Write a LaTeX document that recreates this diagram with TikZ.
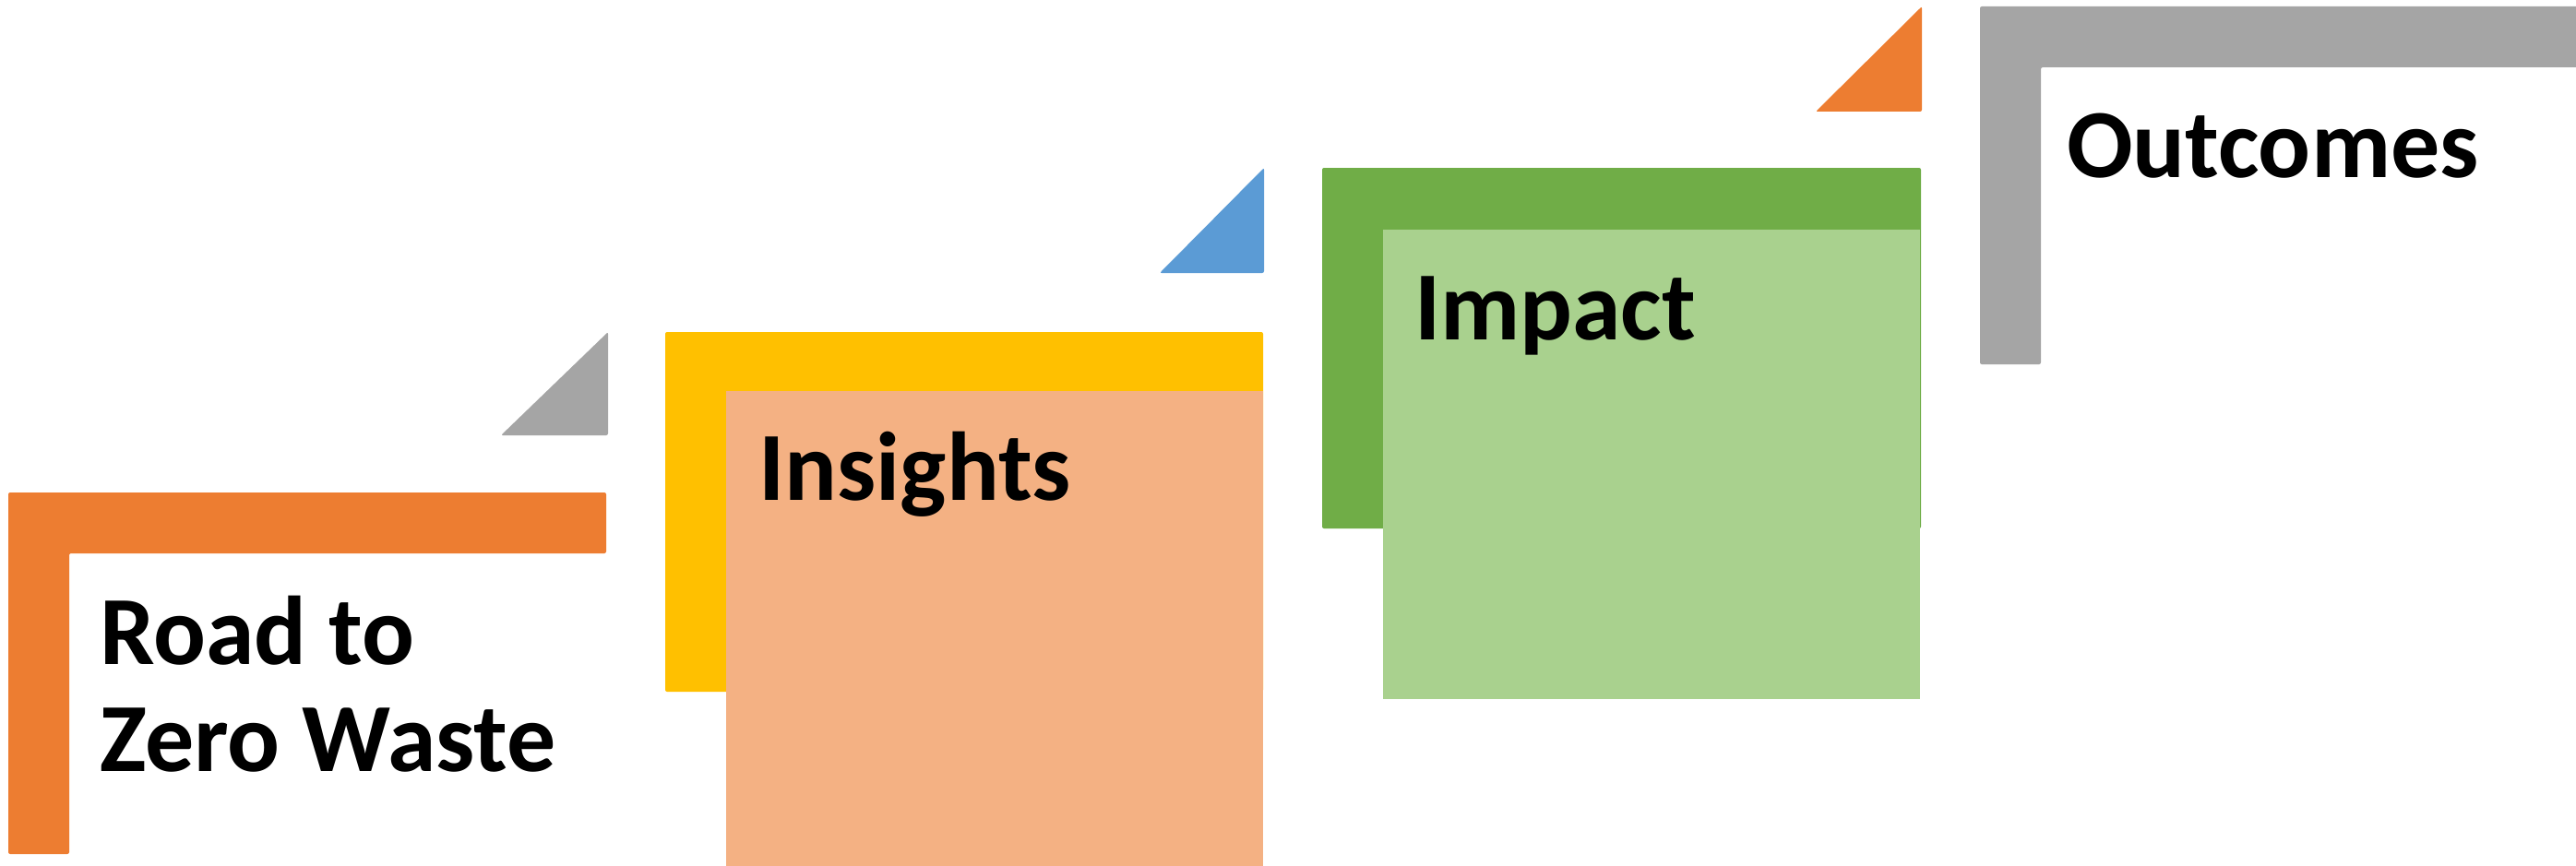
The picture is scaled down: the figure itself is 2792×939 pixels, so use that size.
\documentclass[tikz,border=0pt]{standalone}
\usepackage{fontspec}
\setmainfont{Carlito}
\definecolor{cOrange}{HTML}{ED7D31}
\definecolor{cGray}{HTML}{A5A5A5}
\definecolor{cYellow}{HTML}{FFC000}
\definecolor{cPeach}{HTML}{F4B183}
\definecolor{cBlue}{HTML}{5B9BD5}
\definecolor{cGreen}{HTML}{70AD47}
\definecolor{cLightGreen}{HTML}{A9D18E}
\tikzset{
  shapefill/.style={rounded corners=2pt},
  label text/.style={anchor=base west, inner sep=0pt, text=black,
    font=\fontsize{106}{116}\selectfont\bfseries},
}
\begin{document}
\begin{tikzpicture}[x=1pt,y=-1pt]
\useasboundingbox (0,0) rectangle (2792,939);
\clip (0,0) rectangle (2792,939);
% step 1: Road to Zero Waste (orange L)
\fill[cOrange, shapefill] (9,534) -- (657,534) -- (657,600) -- (75,600) -- (75,926) -- (9,926) -- cycle;
\fill[cGray, shapefill] (543,472) -- (659,360) -- (659,472) -- cycle;
\node[label text] (road1) at (108,720) {Road to};
\node[label text] (road2) at (108,836) {Zero Waste};
% step 2: Insights
\fill[cYellow, shapefill] (721,360) rectangle (1369,750);
\fill[cPeach] (787,424) rectangle (1369,945);
\fill[cBlue, shapefill] (1257,296) -- (1370,182) -- (1370,296) -- cycle;
\node[label text] (insights) at (822,542) {Insights};
% step 3: Impact
\fill[cGreen, shapefill] (1433,182) rectangle (2082,573);
\fill[cLightGreen] (1499,249) rectangle (2081,758);
\fill[cOrange, shapefill] (1968,121) -- (2083,7) -- (2083,121) -- cycle;
\node[label text] (impact) at (1533,368) {Impact};
% step 4: Outcomes (gray L)
\fill[cGray, shapefill] (2146,7) -- (2800,7) -- (2800,73) -- (2212,73) -- (2212,395) -- (2146,395) -- cycle;
\node[label text] (outcomes) at (2240,193) {Outcomes};
\end{tikzpicture}
\end{document}
